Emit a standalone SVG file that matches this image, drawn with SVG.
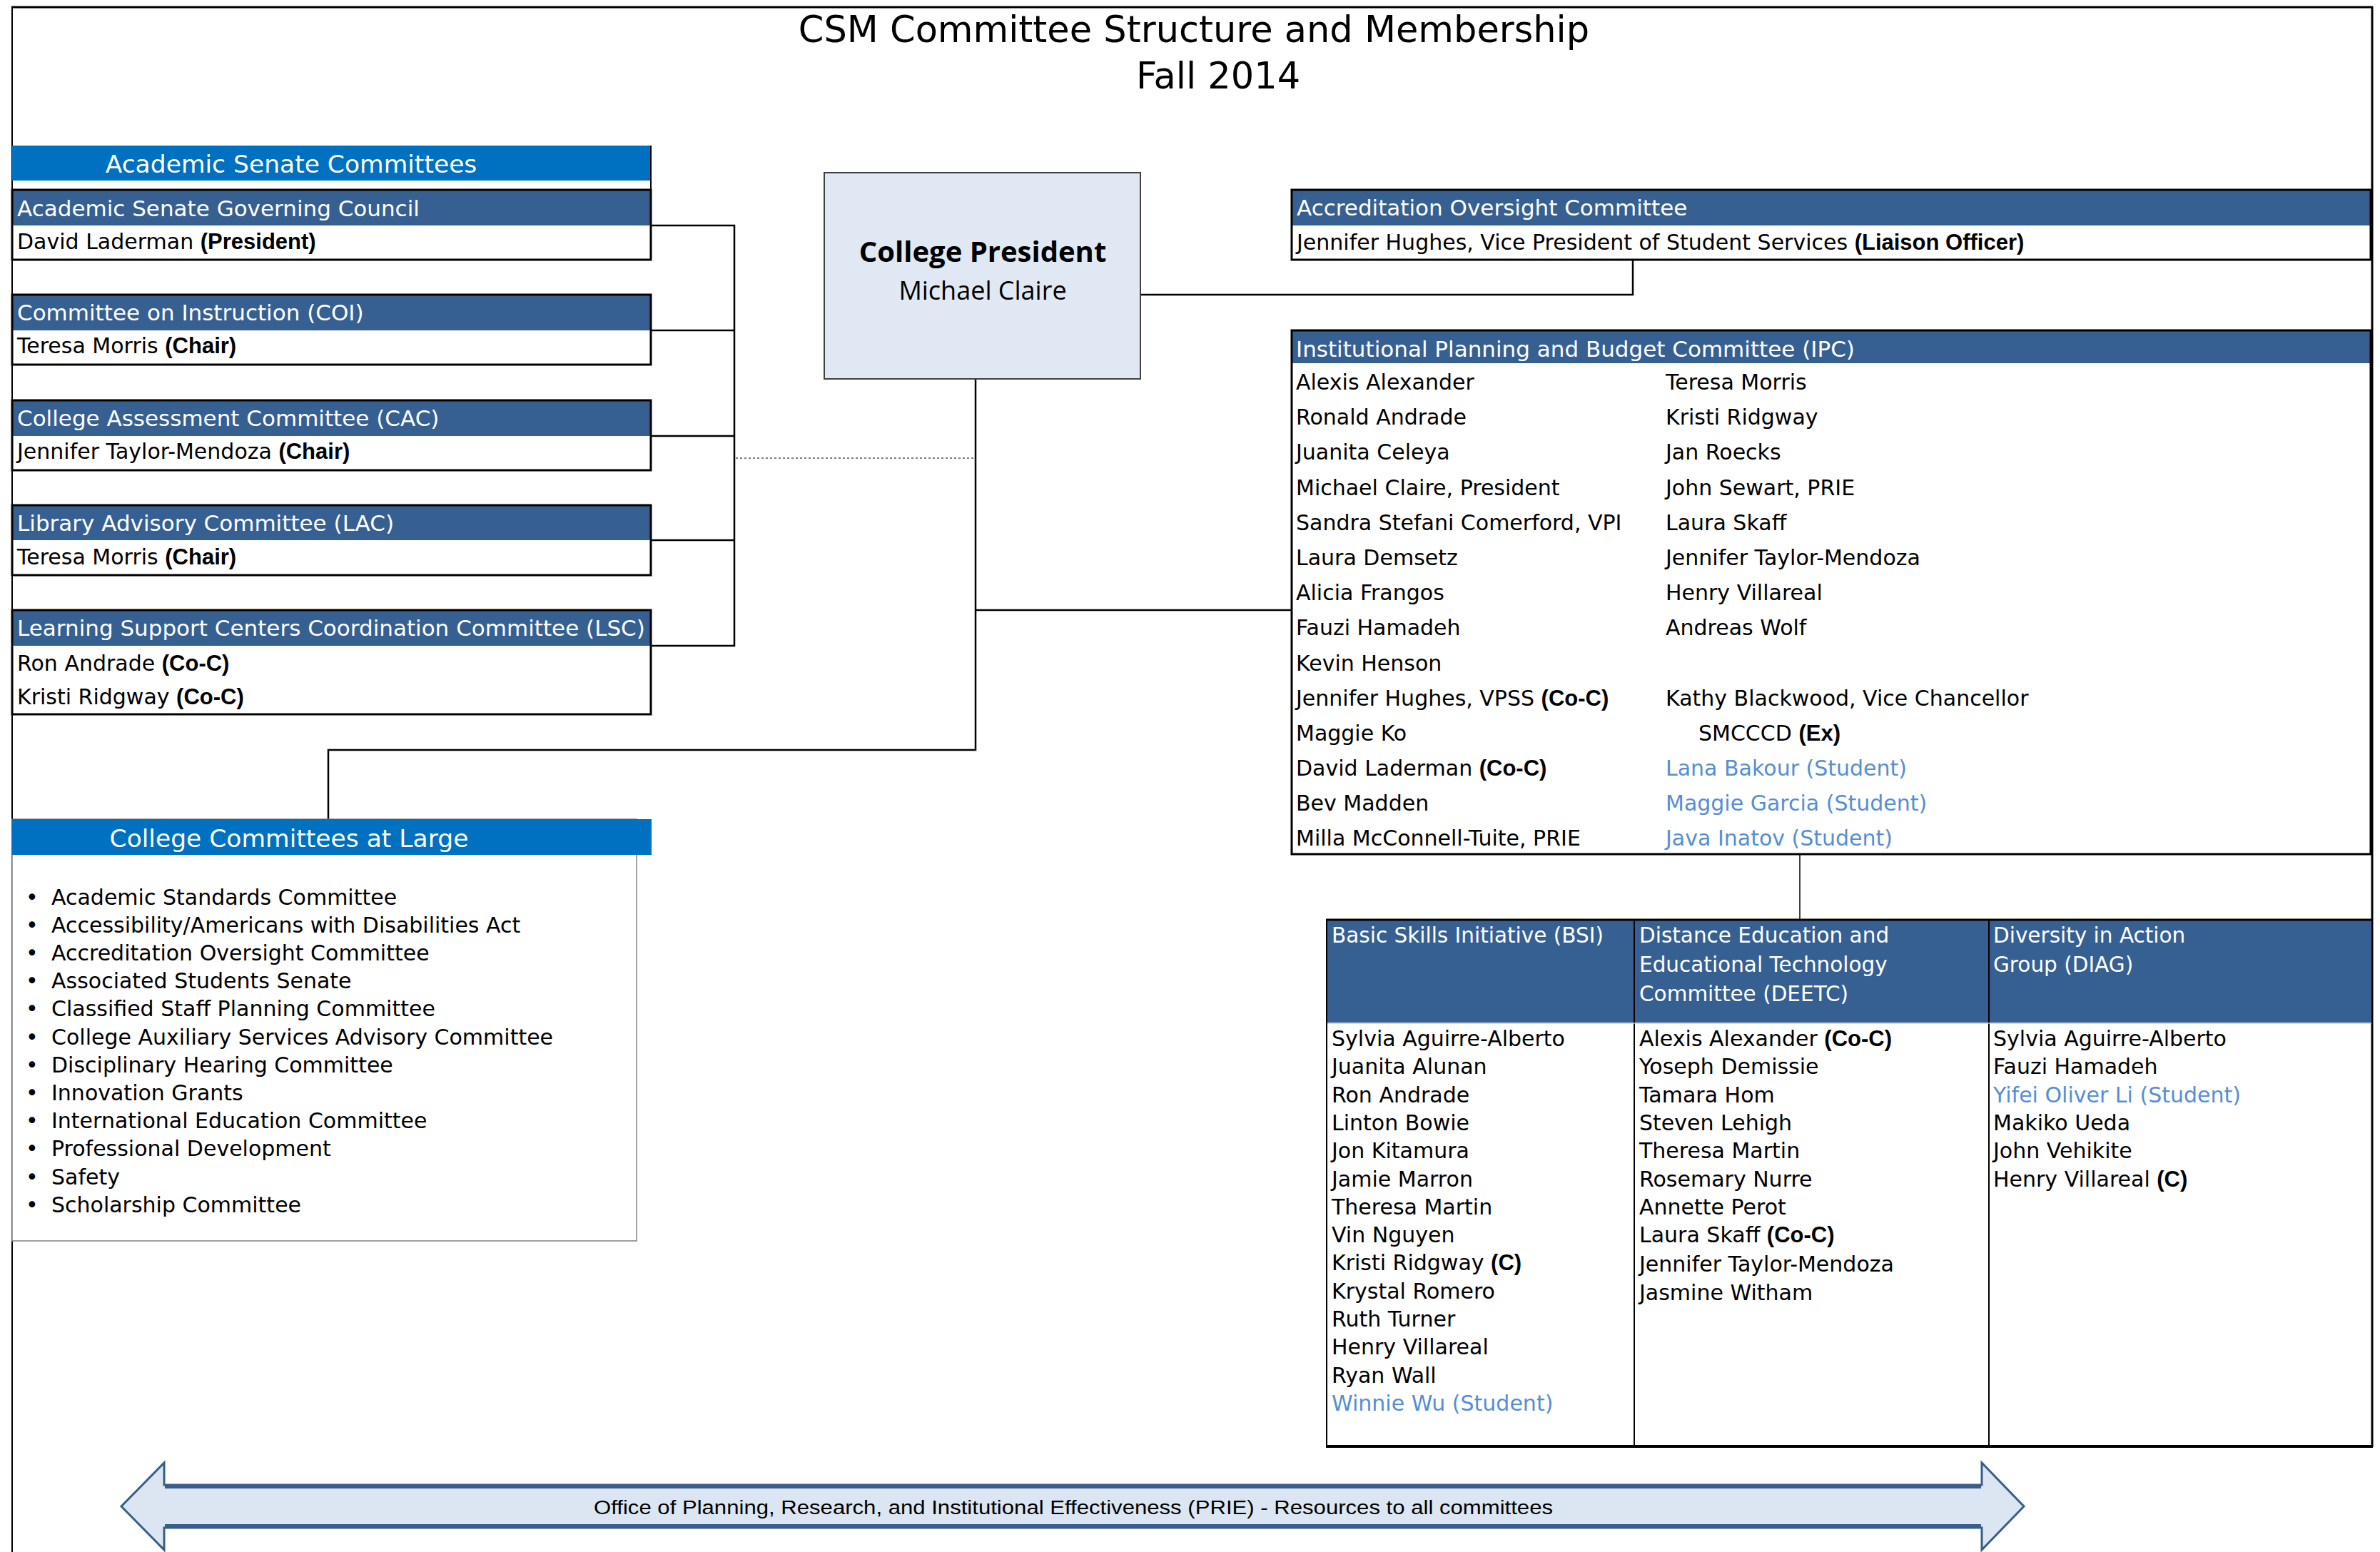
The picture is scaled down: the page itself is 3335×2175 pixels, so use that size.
<svg xmlns="http://www.w3.org/2000/svg" width="3335" height="2175" viewBox="0 0 3335 2175">
<style>
  .t{font-family:"DejaVu Sans","Noto Sans",sans-serif;font-size:30px;fill:#000}
  .h{font-family:"DejaVu Sans","Noto Sans",sans-serif;font-size:31px;fill:#fff}
  .hb{font-family:"DejaVu Sans","Noto Sans",sans-serif;font-size:34.5px;fill:#fff}
  .th{font-family:"DejaVu Sans","Noto Sans",sans-serif;font-size:29.5px;fill:#fff}
  .b{font-family:"Liberation Sans",Arial,sans-serif;font-weight:bold;font-size:31px}
  .s{fill:#558ED5}
  .hdr{fill:#376092}
  .box{fill:none;stroke:#000;stroke-width:3}
  .con{fill:none;stroke:#000;stroke-width:2.5}
</style>
<rect x="0" y="0" width="3335" height="2175" fill="#fff"/>

<g id="frame" fill="none" stroke="#000">
  <line x1="17" y1="10" x2="17" y2="2175" stroke-width="2"/>
  <line x1="16" y1="10" x2="3325" y2="10" stroke-width="3"/>
  <line x1="3324" y1="9" x2="3324" y2="2028" stroke-width="3"/>
</g>

<g id="title" font-family="DejaVu Sans, Noto Sans, sans-serif" font-size="51" text-anchor="middle" fill="#000">
  <text x="1673" y="59">CSM Committee Structure and Membership</text>
  <text x="1707" y="124">Fall 2014</text>
</g>

<g id="connectors">
  <path class="con" stroke-width="3" d="M912 316 H1029 V905 H912 M912 463 H1029 M912 611 H1029 M912 757 H1029"/>
  <line x1="1031" y1="642" x2="1366" y2="642" stroke="#555" stroke-width="1.5" stroke-dasharray="3 3"/>
  <path class="con" d="M1598 413 H2288 V364"/>
  <path class="con" d="M1367 531 V1051 H460 V1148"/>
  <path class="con" d="M1367 855 H1810"/>
  <line x1="2522" y1="1197" x2="2522" y2="1297" stroke="#000" stroke-width="1.5"/>
</g>

<g id="academic-senate-committees">
  <rect x="17" y="204" width="895" height="49" fill="#0070C0"/>
  <line x1="912" y1="204" x2="912" y2="266" stroke="#000" stroke-width="2"/>
  <text class="hb" x="408" y="242" text-anchor="middle">Academic Senate Committees</text>
</g>

<g id="asgc">
  <rect class="hdr" x="17" y="266" width="895" height="50"/>
  <rect class="box" x="17" y="266" width="895" height="98"/>
  <text class="h" x="24" y="303">Academic Senate Governing Council</text>
  <text class="t" x="24" y="349">David Laderman <tspan class="b">(President)</tspan></text>
</g>

<g id="coi">
  <rect class="hdr" x="17" y="413" width="895" height="50"/>
  <rect class="box" x="17" y="413" width="895" height="98"/>
  <text class="h" x="24" y="449">Committee on Instruction (COI)</text>
  <text class="t" x="24" y="495">Teresa Morris <tspan class="b">(Chair)</tspan></text>
</g>

<g id="cac">
  <rect class="hdr" x="17" y="561" width="895" height="50"/>
  <rect class="box" x="17" y="561" width="895" height="98"/>
  <text class="h" x="24" y="597">College Assessment Committee (CAC)</text>
  <text class="t" x="24" y="643">Jennifer Taylor-Mendoza <tspan class="b">(Chair)</tspan></text>
</g>

<g id="lac">
  <rect class="hdr" x="17" y="708" width="895" height="49"/>
  <rect class="box" x="17" y="708" width="895" height="98"/>
  <text class="h" x="24" y="744">Library Advisory Committee (LAC)</text>
  <text class="t" x="24" y="791">Teresa Morris <tspan class="b">(Chair)</tspan></text>
</g>

<g id="lsc">
  <rect class="hdr" x="17" y="855" width="895" height="50"/>
  <rect class="box" x="17" y="855" width="895" height="146"/>
  <text class="h" x="24" y="891">Learning Support Centers Coordination Committee (LSC)</text>
  <text class="t" x="24" y="940">Ron Andrade <tspan class="b">(Co-C)</tspan></text>
  <text class="t" x="24" y="987">Kristi Ridgway <tspan class="b">(Co-C)</tspan></text>
</g>

<g id="college-president">
  <rect x="1155" y="242" width="443" height="289" fill="#E0E8F4" stroke="#404040" stroke-width="2"/>
  <text x="1377" y="367" text-anchor="middle" font-family="Open Sans, Noto Sans, sans-serif" font-weight="bold" font-size="40">College President</text>
  <text x="1377" y="420" text-anchor="middle" font-family="Open Sans, Noto Sans, sans-serif" font-size="36">Michael Claire</text>
</g>

<g id="aoc">
  <rect class="hdr" x="1810" y="266" width="1512" height="50"/>
  <rect class="box" x="1810" y="266" width="1512" height="98"/>
  <text class="h" x="1817" y="302">Accreditation Oversight Committee</text>
  <text class="t" x="1817" y="350">Jennifer Hughes, Vice President of Student Services <tspan class="b">(Liaison Officer)</tspan></text>
</g>

<g id="ipc">
  <rect class="hdr" x="1810" y="463" width="1512" height="46"/>
  <rect class="box" x="1810" y="463" width="1512" height="734"/>
  <text class="h" x="1816" y="500">Institutional Planning and Budget Committee (IPC)</text>
  <g class="t">
    <text x="1816" y="546">Alexis Alexander</text>
    <text x="1816" y="595">Ronald Andrade</text>
    <text x="1816" y="644">Juanita Celeya</text>
    <text x="1816" y="694">Michael Claire, President</text>
    <text x="1816" y="743">Sandra Stefani Comerford, VPI</text>
    <text x="1816" y="792">Laura Demsetz</text>
    <text x="1816" y="841">Alicia Frangos</text>
    <text x="1816" y="890">Fauzi Hamadeh</text>
    <text x="1816" y="940">Kevin Henson</text>
    <text x="1816" y="989">Jennifer Hughes, VPSS <tspan class="b">(Co-C)</tspan></text>
    <text x="1816" y="1038">Maggie Ko</text>
    <text x="1816" y="1087">David Laderman <tspan class="b">(Co-C)</tspan></text>
    <text x="1816" y="1136">Bev Madden</text>
    <text x="1816" y="1185">Milla McConnell-Tuite, PRIE</text>
    <text x="2334" y="546">Teresa Morris</text>
    <text x="2334" y="595">Kristi Ridgway</text>
    <text x="2334" y="644">Jan Roecks</text>
    <text x="2334" y="694">John Sewart, PRIE</text>
    <text x="2334" y="743">Laura Skaff</text>
    <text x="2334" y="792">Jennifer Taylor-Mendoza</text>
    <text x="2334" y="841">Henry Villareal</text>
    <text x="2334" y="890">Andreas Wolf</text>
    <text x="2334" y="989">Kathy Blackwood, Vice Chancellor</text>
    <text x="2380" y="1038">SMCCCD <tspan class="b">(Ex)</tspan></text>
    <text class="t s" x="2334" y="1087">Lana Bakour (Student)</text>
    <text class="t s" x="2334" y="1136">Maggie Garcia (Student)</text>
    <text class="t s" x="2334" y="1185">Java Inatov (Student)</text>
  </g>
</g>

<g id="subcommittees">
  <rect class="hdr" x="1859" y="1289" width="1465" height="144"/>
  <rect x="1859" y="1289" width="1465" height="738" fill="none" stroke="#000" stroke-width="2"/>
  <line x1="1858" y1="1289" x2="3325" y2="1289" stroke="#000" stroke-width="3"/>
  <line x1="1858" y1="2027" x2="3325" y2="2027" stroke="#000" stroke-width="4"/>
  <line x1="2290" y1="1289" x2="2290" y2="2027" stroke="#000" stroke-width="2"/>
  <line x1="2787" y1="1289" x2="2787" y2="2027" stroke="#000" stroke-width="2"/>
  <line x1="1860" y1="1434" x2="3323" y2="1434" stroke="#B8CCE4" stroke-width="1.5"/>
</g>

<g id="bsi">
  <text class="th" x="1866" y="1321">Basic Skills Initiative (BSI)</text>
  <g class="t">
    <text x="1866" y="1466">Sylvia Aguirre-Alberto</text>
    <text x="1866" y="1505">Juanita Alunan</text>
    <text x="1866" y="1545">Ron Andrade</text>
    <text x="1866" y="1584">Linton Bowie</text>
    <text x="1866" y="1623">Jon Kitamura</text>
    <text x="1866" y="1663">Jamie Marron</text>
    <text x="1866" y="1702">Theresa Martin</text>
    <text x="1866" y="1741">Vin Nguyen</text>
    <text x="1866" y="1780">Kristi Ridgway <tspan class="b">(C)</tspan></text>
    <text x="1866" y="1820">Krystal Romero</text>
    <text x="1866" y="1859">Ruth Turner</text>
    <text x="1866" y="1898">Henry Villareal</text>
    <text x="1866" y="1938">Ryan Wall</text>
    <text class="t s" x="1866" y="1977">Winnie Wu (Student)</text>
  </g>
</g>

<g id="deetc">
  <text class="th" x="2297" y="1321">Distance Education and</text>
  <text class="th" x="2297" y="1362">Educational Technology</text>
  <text class="th" x="2297" y="1403">Committee (DEETC)</text>
  <g class="t">
    <text x="2297" y="1466">Alexis Alexander <tspan class="b">(Co-C)</tspan></text>
    <text x="2297" y="1505">Yoseph Demissie</text>
    <text x="2297" y="1545">Tamara Hom</text>
    <text x="2297" y="1584">Steven Lehigh</text>
    <text x="2297" y="1623">Theresa Martin</text>
    <text x="2297" y="1663">Rosemary Nurre</text>
    <text x="2297" y="1702">Annette Perot</text>
    <text x="2297" y="1741">Laura Skaff <tspan class="b">(Co-C)</tspan></text>
    <text x="2297" y="1782">Jennifer Taylor-Mendoza</text>
    <text x="2297" y="1822">Jasmine Witham</text>
  </g>
</g>

<g id="diag">
  <text class="th" x="2793" y="1321">Diversity in Action</text>
  <text class="th" x="2793" y="1362">Group (DIAG)</text>
  <g class="t">
    <text x="2793" y="1466">Sylvia Aguirre-Alberto</text>
    <text x="2793" y="1505">Fauzi Hamadeh</text>
    <text class="t s" x="2793" y="1545">Yifei Oliver Li (Student)</text>
    <text x="2793" y="1584">Makiko Ueda</text>
    <text x="2793" y="1623">John Vehikite</text>
    <text x="2793" y="1663">Henry Villareal <tspan class="b">(C)</tspan></text>
  </g>
</g>

<g id="college-committees-at-large">
  <rect x="17" y="1148" width="875" height="591" fill="#fff" stroke="#808080" stroke-width="1.5"/>
  <rect x="17" y="1148" width="896" height="50" fill="#0070C0"/>
  <text class="hb" x="405" y="1187" text-anchor="middle">College Committees at Large</text>
  <g class="t">
    <text x="36" y="1268">•</text><text x="72" y="1268">Academic Standards Committee</text>
    <text x="36" y="1307">•</text><text x="72" y="1307">Accessibility/Americans with Disabilities Act</text>
    <text x="36" y="1346">•</text><text x="72" y="1346">Accreditation Oversight Committee</text>
    <text x="36" y="1385">•</text><text x="72" y="1385">Associated Students Senate</text>
    <text x="36" y="1424">•</text><text x="72" y="1424">Classified Staff Planning Committee</text>
    <text x="36" y="1464">•</text><text x="72" y="1464">College Auxiliary Services Advisory Committee</text>
    <text x="36" y="1503">•</text><text x="72" y="1503">Disciplinary Hearing Committee</text>
    <text x="36" y="1542">•</text><text x="72" y="1542">Innovation Grants</text>
    <text x="36" y="1581">•</text><text x="72" y="1581">International Education Committee</text>
    <text x="36" y="1620">•</text><text x="72" y="1620">Professional Development</text>
    <text x="36" y="1660">•</text><text x="72" y="1660">Safety</text>
    <text x="36" y="1699">•</text><text x="72" y="1699">Scholarship Committee</text>
  </g>
</g>

<g id="prie-arrow">
  <polygon points="170,2111 230,2050 230,2081 2777,2081 2777,2050 2836,2111 2777,2172 2777,2141 230,2141 230,2172" fill="#DCE6F2" stroke="#385D8A" stroke-width="3" stroke-linejoin="miter"/>
  <line x1="231" y1="2083" x2="2776" y2="2083" stroke="#385D8A" stroke-width="6"/>
  <line x1="231" y1="2139" x2="2776" y2="2139" stroke="#385D8A" stroke-width="6"/>
  <text x="1504" y="2122" text-anchor="middle" font-family="Liberation Sans, Arial, sans-serif" font-size="27" textLength="1344" lengthAdjust="spacingAndGlyphs">Office of Planning, Research, and Institutional Effectiveness (PRIE) - Resources to all committees</text>
</g>
</svg>
